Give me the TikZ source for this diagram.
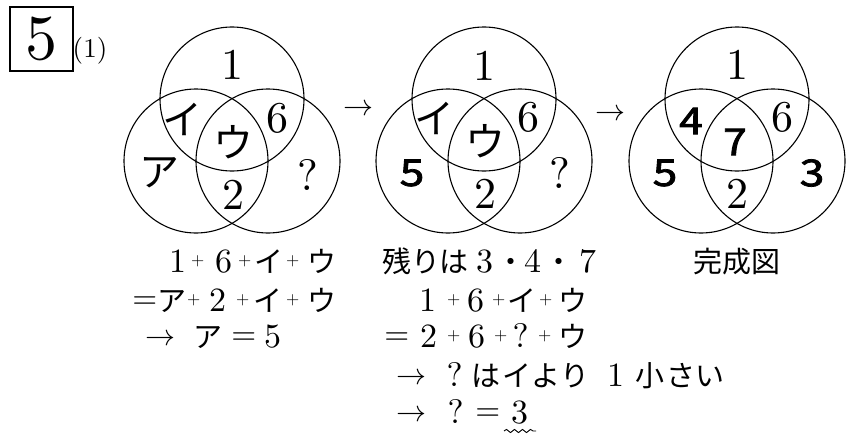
\documentclass[tikz,border=0pt]{standalone}
\usepackage{fontspec}
\usepackage{graphicx}
\setmainfont{lmroman10-regular.otf}
\newfontfamily\myjpfont{Noto Sans CJK JP}
\newfontfamily\myjpbold[FakeBold=2]{Noto Sans CJK JP}
\usetikzlibrary{decorations.pathmorphing}
\newcommand\mygl[2]{\rlap{\hspace*{#1pt}\makebox[0pt]{#2}}}
\newcommand\mydg[1]{{\fontsize{34}{34}\selectfont #1}}
\newcommand\myjc[1]{{\myjpfont\fontsize{29}{29}\selectfont #1}}
\newcommand\mypl{\raisebox{6.5pt}{\fontsize{17}{17}\selectfont +}}
\newcommand\myeq{\raisebox{3pt}{\fontsize{32}{32}\selectfont =}}
\newcommand\myarr{\raisebox{2pt}{\scalebox{3}{$\rightarrow$}}}
\tikzset{
  ring/.style={line width=1.1pt},
  lab/.style={inner sep=0pt, anchor=center},
  num/.style={lab, font=\fontsize{44}{44}\selectfont},
  kana/.style={lab, font=\myjpfont\fontsize{40}{40}\selectfont},
  bnum/.style={lab, font=\myjpbold\fontsize{37}{37}\selectfont},
  txtline/.style={inner sep=0pt, anchor=base west},
  arrowglyph/.style={inner sep=0pt, anchor=center}
}
\begin{document}
\begin{tikzpicture}[x=1pt,y=-1pt]
\useasboundingbox (0,0) rectangle (858,436);
% problem number
\node[draw, line width=1.2pt, minimum width=63pt, minimum height=64pt, inner sep=0pt,
      font=\fontsize{64}{64}\selectfont] (box) at (41.5,39) {5};
\node[lab, font=\fontsize{27}{27}\selectfont] (sub) at (90,51) {(1)};
% circles
\foreach \cx in {232,484,737}{
  \draw[ring] (\cx,99) circle[radius=72pt];
  \draw[ring] (\cx-36,161) circle[radius=72pt];
  \draw[ring] (\cx+36,161) circle[radius=72pt];
}
% diagram 1
\node[num]  (a1) at (232,65) {1};
\node[kana] (a2) at (182,119) {イ};
\node[num]  (a3) at (277,118) {6};
\node[kana] (a4) at (233,142) {ウ};
\node[kana] (a5) at (159,173) {ア};
\node[num]  (a6) at (308,175) {?};
\node[num]  (a7) at (233,195) {2};
% diagram 2
\node[num]  (b1) at (484,66) {1};
\node[kana] (b2) at (434,118) {イ};
\node[num]  (b3) at (528,117) {6};
\node[kana] (b4) at (485,141) {ウ};
\node[bnum] (b5) at (412,173) {\scalebox{1.2}[1]{5}};
\node[num]  (b6) at (560,173) {?};
\node[num]  (b7) at (485,194) {2};
% diagram 3
\node[num]  (c1) at (737,65) {1};
\node[bnum] (c2) at (691,121) {\scalebox{1.15}[1]{4}};
\node[num]  (c3) at (782,117) {6};
\node[bnum] (c4) at (735,142) {\scalebox{1.15}[1]{7}};
\node[bnum] (c5) at (665,173) {\scalebox{1.2}[1]{5}};
\node[bnum] (c6) at (812,173) {\scalebox{1.2}[1]{3}};
\node[num]  (c7) at (737,194) {2};
% arrows between diagrams
\node[arrowglyph] (ar1) at (358,110) {\scalebox{3}{$\rightarrow$}};
\node[arrowglyph] (ar2) at (610,115) {\scalebox{3}{$\rightarrow$}};
% text column 1
\node[txtline] (l11) at (0,272) {\mygl{177}{\mydg{1}}\mygl{197}{\mypl}\mygl{223}{\mydg{6}}\mygl{244}{\mypl}\mygl{268}{\myjc{イ}}\mygl{292}{\mypl}\mygl{321}{\myjc{ウ}}};
\node[txtline] (l12) at (0,311) {\mygl{144}{\myeq}\mygl{171}{\myjc{ア}}\mygl{193}{\mypl}\mygl{217}{\mydg{2}}\mygl{242}{\mypl}\mygl{267}{\myjc{イ}}\mygl{292}{\mypl}\mygl{321}{\myjc{ウ}}};
\node[txtline] (l13) at (0,347) {\mygl{160}{\myarr}\mygl{207}{\myjc{ア}}\mygl{243}{\myeq}\mygl{272}{\mydg{5}}};
% text column 2
\node[txtline] (l21) at (0,272) {\mygl{396}{\myjc{残}}\mygl{425}{\myjc{り}}\mygl{453}{\myjc{は}}\mygl{484}{\mydg{3}}\mygl{510}{\myjc{・}}\mygl{532}{\mydg{4}}\mygl{558}{\myjc{・}}\mygl{587}{\mydg{7}}};
\node[txtline] (l22) at (0,311) {\mygl{427}{\mydg{1}}\mygl{453}{\mypl}\mygl{475}{\mydg{6}}\mygl{498}{\mypl}\mygl{521}{\myjc{イ}}\mygl{545}{\mypl}\mygl{572}{\myjc{ウ}}};
\node[txtline] (l23) at (0,347) {\mygl{396}{\myeq}\mygl{428}{\mydg{2}}\mygl{453}{\mypl}\mygl{476}{\mydg{6}}\mygl{500}{\mypl}\mygl{520}{\mydg{?}}\mygl{544}{\mypl}\mygl{572}{\myjc{ウ}}};
\node[txtline] (l24) at (0,386) {\mygl{411}{\myarr}\mygl{454}{\mydg{?}}\mygl{485}{\myjc{は}}\mygl{516}{\myjc{イ}}\mygl{545}{\myjc{よ}}\mygl{574}{\myjc{り}}\mygl{615}{\mydg{1}}\mygl{649}{\myjc{小}}\mygl{680}{\myjc{さ}}\mygl{709}{\myjc{い}}};
\node[txtline] (l25) at (0,423) {\mygl{411}{\myarr}\mygl{455}{\mydg{?}}\mygl{487}{\myeq}\mygl{519}{\mydg{3}}};
% text column 3
\node[txtline] (l31) at (0,272) {\mygl{707}{\myjc{完}}\mygl{736}{\myjc{成}}\mygl{765}{\myjc{図}}};
% wavy underline
\coordinate (w1) at (504,431);
\coordinate (w2) at (536,431);
\draw[line width=0.9pt, decorate, decoration={snake, segment length=8pt, amplitude=1.6pt}] (w1) -- (w2);
\end{tikzpicture}
\end{document}
